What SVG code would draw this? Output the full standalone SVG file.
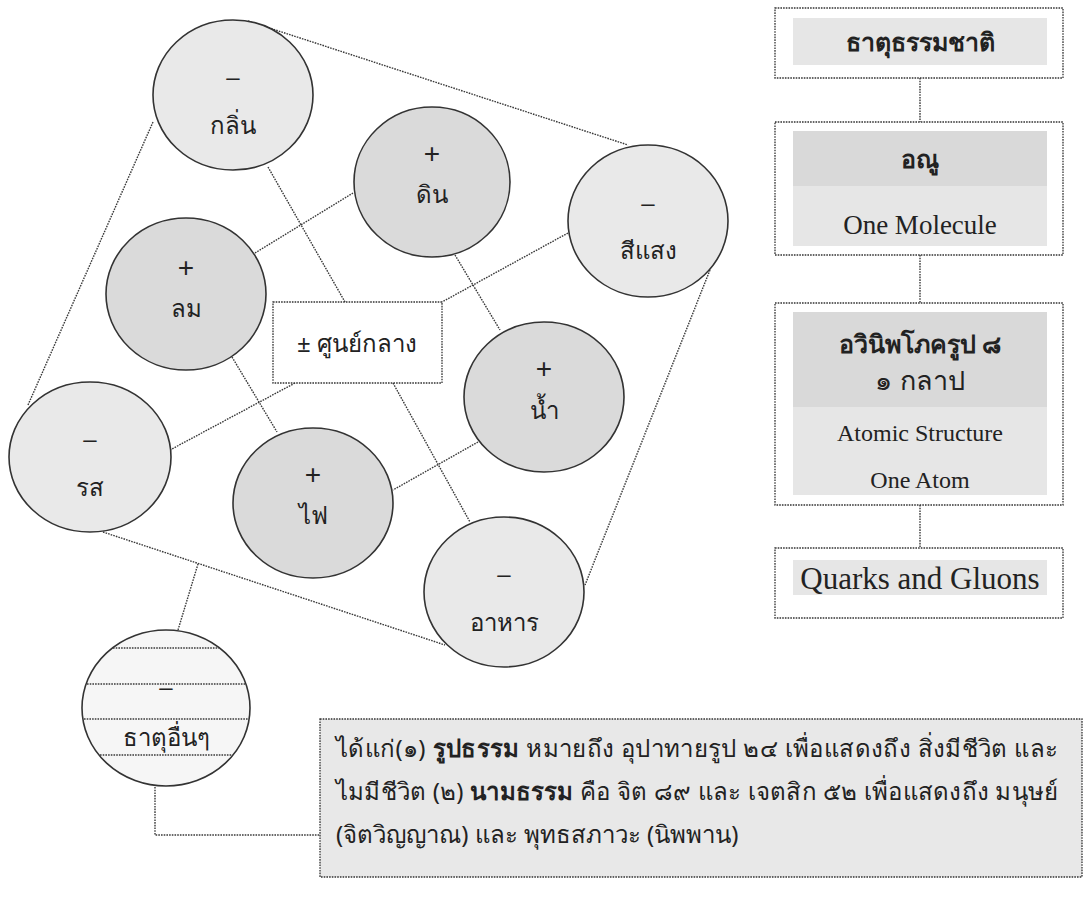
<svg xmlns="http://www.w3.org/2000/svg" width="1086" height="909" viewBox="0 0 1086 909">
<style>
.dot{fill:none;stroke:#3a3a3a;stroke-width:1.4;stroke-dasharray:1.6 1.1}
.cm{fill:#e9e9e9;stroke:#333;stroke-width:1.6}
.cp{fill:#dadada;stroke:#333;stroke-width:1.6}
.sym{font-family:"Liberation Sans",Arial,sans-serif;font-size:24px;fill:#222;text-anchor:middle}
.pl{font-size:28px}
.lab{font-family:"Noto Sans","DejaVu Sans",sans-serif;font-size:24px;fill:#222;text-anchor:middle}
.box{fill:#fff;stroke:#333;stroke-width:1.3;stroke-dasharray:1.6 1.1}
.thb{font-family:"Liberation Serif","Noto Sans",serif;font-weight:bold;font-size:25px;fill:#222;text-anchor:middle}
.en{font-family:"Liberation Serif",serif;font-size:27px;fill:#222;text-anchor:middle}
.para{font-family:"Noto Sans","Liberation Serif",sans-serif;font-size:24px;fill:#222}
</style>
<rect width="1086" height="909" fill="#fff"/>
<g id="connectors">
<line class="dot" x1="248" y1="21" x2="628" y2="145"/>
<line class="dot" x1="153" y1="122" x2="28" y2="405"/>
<line class="dot" x1="103" y1="532" x2="445" y2="645"/>
<line class="dot" x1="710" y1="270" x2="585" y2="585"/>
<line class="dot" x1="268" y1="167" x2="345" y2="302"/>
<line class="dot" x1="255" y1="253" x2="353" y2="193"/>
<line class="dot" x1="455" y1="255" x2="500" y2="330"/>
<line class="dot" x1="568" y1="233" x2="442" y2="302"/>
<line class="dot" x1="232" y1="357" x2="277" y2="432"/>
<line class="dot" x1="295" y1="383" x2="170" y2="450"/>
<line class="dot" x1="393" y1="383" x2="470" y2="522"/>
<line class="dot" x1="478" y1="442" x2="393" y2="490"/>
<line class="dot" x1="178" y1="630" x2="198" y2="564"/>
<polyline class="dot" points="155,787 155,835 320,835"/>
<line class="dot" x1="920" y1="78" x2="920" y2="122"/>
<line class="dot" x1="920" y1="255" x2="920" y2="303"/>
<line class="dot" x1="920" y1="505" x2="920" y2="548"/>
</g>
<g id="n-klin"><ellipse class="cm" cx="233" cy="95" rx="80" ry="75"/><text class="sym" x="233" y="85">–</text><text class="lab" x="233" y="134">กลิ่น</text></g>
<g id="n-din"><ellipse class="cp" cx="432" cy="182" rx="78" ry="75"/><text class="sym pl" x="432" y="163">+</text><text class="lab" x="432" y="203">ดิน</text></g>
<g id="n-sisaeng"><ellipse class="cm" cx="648" cy="221" rx="80" ry="76"/><text class="sym" x="648" y="211">–</text><text class="lab" x="648" y="259">สีแสง</text></g>
<g id="n-lom"><ellipse class="cp" cx="186" cy="294" rx="80" ry="76"/><text class="sym pl" x="186" y="277">+</text><text class="lab" x="186" y="317">ลม</text></g>
<g id="n-center"><rect class="box" x="273" y="302" width="169" height="81"/><text class="lab" x="357" y="352">± ศูนย์กลาง</text></g>
<g id="n-nam"><ellipse class="cp" cx="544" cy="397" rx="80" ry="75"/><text class="sym pl" x="544" y="378">+</text><text class="lab" x="544" y="419">น้ำ</text></g>
<g id="n-rot"><ellipse class="cm" cx="90" cy="457" rx="81" ry="75"/><text class="sym" x="90" y="447">–</text><text class="lab" x="90" y="496">รส</text></g>
<g id="n-fai"><ellipse class="cp" cx="313" cy="503" rx="80" ry="75"/><text class="sym pl" x="313" y="484">+</text><text class="lab" x="313" y="524">ไฟ</text></g>
<g id="n-ahan"><ellipse class="cm" cx="504" cy="592" rx="80" ry="75"/><text class="sym" x="504" y="582">–</text><text class="lab" x="504" y="631">อาหาร</text></g>
<g id="n-other">
<ellipse cx="166" cy="708" rx="84" ry="78" fill="#f6f6f6" stroke="#333" stroke-width="1.6"/>
<line class="dot" x1="113" y1="648" x2="219" y2="648"/>
<line class="dot" x1="87" y1="684" x2="245" y2="684"/>
<line class="dot" x1="84" y1="719" x2="248" y2="719"/>
<line class="dot" x1="100" y1="755" x2="232" y2="755"/>
<text class="sym" x="166" y="695">–</text>
<text class="lab" x="166" y="746">ธาตุอื่นๆ</text>
</g>
<g id="n-nature"><rect class="box" x="775" y="8" width="288" height="70"/><rect x="793" y="18" width="254" height="47" fill="#e6e6e6"/><text class="thb" x="920" y="51">ธาตุธรรมชาติ</text></g>
<g id="n-molecule"><rect class="box" x="775" y="122" width="288" height="133"/><rect x="793" y="131" width="254" height="55" fill="#d9d9d9"/><rect x="793" y="186" width="254" height="60" fill="#e6e6e6"/><text class="thb" x="920" y="168">อณู</text><text class="en" x="920" y="234">One Molecule</text></g>
<g id="n-atom"><rect class="box" x="775" y="303" width="288" height="202"/><rect x="793" y="312" width="254" height="95" fill="#d9d9d9"/><rect x="793" y="407" width="254" height="88" fill="#e6e6e6"/><text class="thb" x="920" y="353">อวินิพโภครูป ๘</text><text class="lab" x="920" y="390" style="font-size:27px">๑ กลาป</text><text class="en" x="920" y="441" style="font-size:24px">Atomic Structure</text><text class="en" x="920" y="488" style="font-size:24px">One Atom</text></g>
<g id="n-quarks"><rect class="box" x="775" y="548" width="288" height="70"/><rect x="793" y="560" width="254" height="35" fill="#e6e6e6"/><text class="en" x="920" y="589" style="font-size:31px">Quarks and Gluons</text></g>
<g id="n-note"><rect class="box" x="320" y="719" width="762" height="158" style="fill:#e8e8e8"/>
<text class="para" x="336" y="757" textLength="722" lengthAdjust="spacing">ได้แก่(๑) <tspan font-weight="bold">รูปธรรม</tspan> หมายถึง อุปาทายรูป ๒๔ เพื่อแสดงถึง สิ่งมีชีวิต และ</text>
<text class="para" x="336" y="800" textLength="722" lengthAdjust="spacing">ไมมีชีวิต  (๒) <tspan font-weight="bold">นามธรรม</tspan> คือ จิต ๘๙ และ เจตสิก ๕๒ เพื่อแสดงถึง มนุษย์</text>
<text class="para" x="336" y="843">(จิตวิญญาณ) และ พุทธสภาวะ (นิพพาน)</text>
</g>
</svg>
